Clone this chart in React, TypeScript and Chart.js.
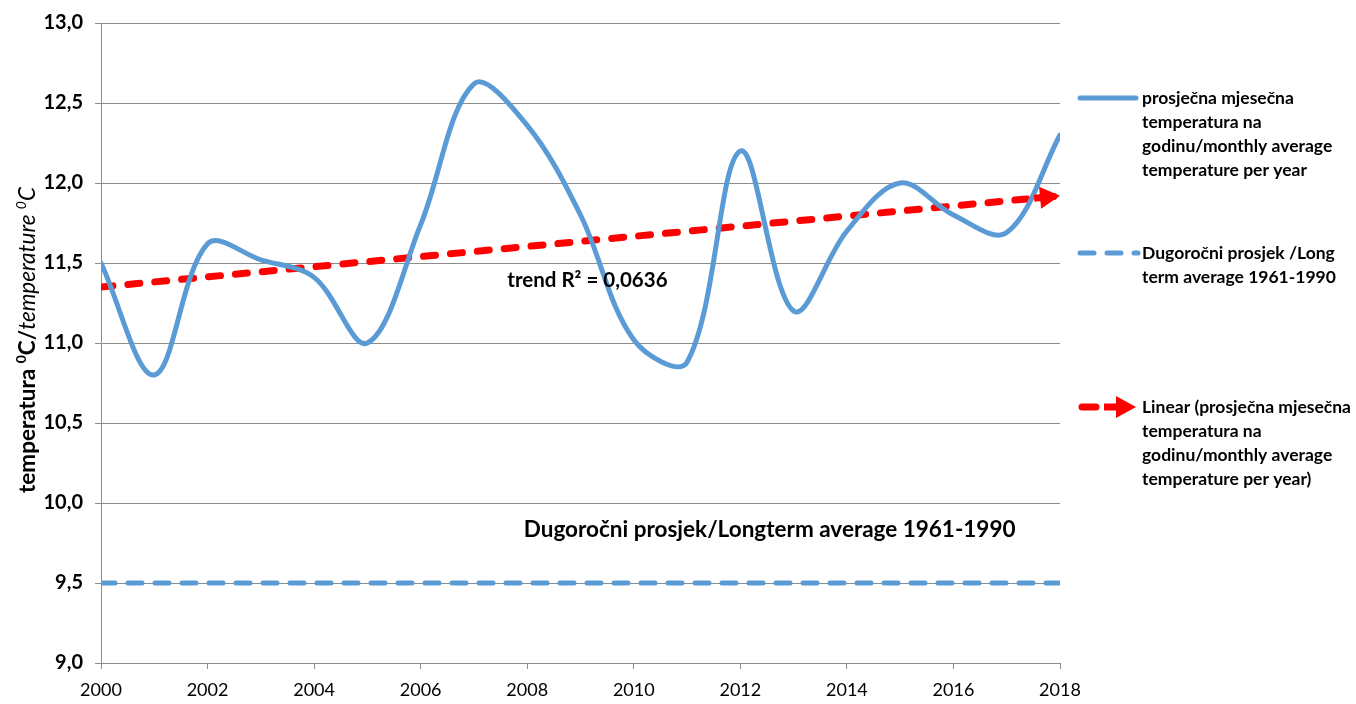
import React, { useEffect, useRef } from "react";
import { Chart, registerables } from "chart.js";

Chart.register(...registerables);

const years = [2000, 2001, 2002, 2003, 2004, 2005, 2006, 2007, 2008, 2009, 2010, 2011, 2012, 2013, 2014, 2015, 2016, 2017, 2018];
const monthlyAvg = [11.5, 10.8, 11.62, 11.52, 11.41, 11.0, 11.74, 12.62, 12.36, 11.8, 11.02, 10.88, 12.2, 11.2, 11.7, 12.0, 11.8, 11.69, 12.3];
const longTermYears = [2000, 2018];
const longTermAvg = [9.5, 9.5];
const trendYears = [2000, 2018];
const trendValues = [11.35, 11.92];

const seriesLabels = [
  ["prosječna mjesečna", "temperatura na", "godinu/monthly average", "temperature per year"],
  ["Dugoročni prosjek /Long", "term average 1961-1990"],
  ["Linear (prosječna mjesečna", "temperatura na", "godinu/monthly average", "temperature per year)"],
];
const trendLabel = "trend R² = 0,0636";
const longTermNote = "Dugoročni prosjek/Longterm average 1961-1990";

const FONT = "Lato, 'Open Sans', sans-serif";
const BLUE = "#5B9BD5";
const RED = "#FF0000";

const drawPlugin = {
  id: "custom",
  afterDatasetsDraw(chart: any) {
    const ctx = chart.ctx;
    const xs = chart.scales.x;
    const ys = chart.scales.y;
    const x0 = xs.getPixelForValue(trendYears[0]);
    const y0 = ys.getPixelForValue(trendValues[0]);
    const x1 = xs.getPixelForValue(trendYears[1]);
    const y1 = ys.getPixelForValue(trendValues[1]);
    const ang = Math.atan2(y1 - y0, x1 - x0);
    ctx.save();
    ctx.translate(x1, y1);
    ctx.rotate(ang);
    ctx.fillStyle = RED;
    ctx.beginPath();
    ctx.moveTo(0, 0);
    ctx.lineTo(-20, -11);
    ctx.lineTo(-20, 11);
    ctx.closePath();
    ctx.fill();
    ctx.fillRect(-26, -3.5, 8, 7);
    ctx.restore();

    ctx.save();
    ctx.fillStyle = "#000";
    ctx.textAlign = "center";
    ctx.textBaseline = "middle";
    ctx.font = `bold 20.5px ${FONT}`;
    ctx.fillText(trendLabel, xs.getPixelForValue(2009.13), ys.getPixelForValue(11.39));
    ctx.font = `bold 22.5px ${FONT}`;
    ctx.fillText(longTermNote, xs.getPixelForValue(2012.55), ys.getPixelForValue(9.83));
    ctx.restore();
  },
  afterDraw(chart: any) {
    const ctx = chart.ctx;
    ctx.save();
    ctx.fillStyle = "#000";
    ctx.textAlign = "left";
    ctx.textBaseline = "middle";
    ctx.font = `bold 17.5px ${FONT}`;
    const lx = 1078;
    const tx = 1142;
    const tops = [98, 253, 407];
    const lh = 24;
    seriesLabels.forEach((lines, i) => {
      lines.forEach((t, j) => ctx.fillText(t, tx, tops[i] + j * lh));
    });
    ctx.lineCap = "round";
    ctx.strokeStyle = BLUE;
    ctx.lineWidth = 5;
    ctx.beginPath();
    ctx.moveTo(lx + 2, tops[0]);
    ctx.lineTo(lx + 58, tops[0]);
    ctx.stroke();
    ctx.setLineDash([14, 13]);
    ctx.beginPath();
    ctx.moveTo(lx + 2, tops[1]);
    ctx.lineTo(lx + 60, tops[1]);
    ctx.stroke();
    ctx.setLineDash([]);
    ctx.strokeStyle = RED;
    ctx.lineWidth = 7;
    ctx.beginPath();
    ctx.moveTo(lx + 4, tops[2]);
    ctx.lineTo(lx + 18, tops[2]);
    ctx.stroke();
    ctx.fillStyle = RED;
    ctx.fillRect(lx + 26, tops[2] - 3.5, 14, 7);
    ctx.beginPath();
    ctx.moveTo(lx + 58, tops[2]);
    ctx.lineTo(lx + 38, tops[2] - 11);
    ctx.lineTo(lx + 38, tops[2] + 11);
    ctx.closePath();
    ctx.fill();

    ctx.translate(27, 340);
    ctx.rotate(-Math.PI / 2);
    ctx.fillStyle = "#000";
    ctx.textBaseline = "alphabetic";
    const parts = [
      { t: "temperatura ", f: `bold 22.5px ${FONT}`, dy: 0 },
      { t: "0", f: `bold 14px ${FONT}`, dy: -9 },
      { t: "C/", f: `bold 22.5px ${FONT}`, dy: 0 },
      { t: "temperature ", f: `italic 22.5px ${FONT}`, dy: 0 },
      { t: "0", f: `italic 14px ${FONT}`, dy: -9 },
      { t: "C", f: `italic 22.5px ${FONT}`, dy: 0 },
    ];
    let total = 0;
    parts.forEach((p) => {
      ctx.font = p.f;
      total += ctx.measureText(p.t).width;
    });
    let cx = -total / 2;
    parts.forEach((p) => {
      ctx.font = p.f;
      ctx.fillText(p.t, cx, 8 + p.dy);
      cx += ctx.measureText(p.t).width;
    });
    ctx.restore();
  },
};

export default function App() {
  const ref = useRef<HTMLCanvasElement>(null);
  useEffect(() => {
    if (!ref.current) return;
    const chart = new Chart(ref.current, {
      type: "line",
      data: {
        datasets: [
          {
            label: seriesLabels[0].join(" "),
            data: years.map((y, i) => ({ x: y, y: monthlyAvg[i] })),
            borderColor: BLUE,
            borderWidth: 5,
            pointRadius: 0,
            tension: 0.35,
            borderCapStyle: "round",
            fill: false,
          },
          {
            label: seriesLabels[1].join(" "),
            data: longTermYears.map((y, i) => ({ x: y, y: longTermAvg[i] })),
            borderColor: BLUE,
            borderWidth: 5,
            borderDash: [14, 13],
            borderCapStyle: "round",
            pointRadius: 0,
            fill: false,
          },
          {
            label: seriesLabels[2].join(" "),
            data: trendYears.map((y, i) => ({ x: y, y: trendValues[i] })),
            borderColor: RED,
            borderWidth: 7,
            borderDash: [12, 15],
            borderCapStyle: "round",
            pointRadius: 0,
            fill: false,
          },
        ],
      },
      options: {
        animation: false,
        responsive: true,
        maintainAspectRatio: false,
        layout: { padding: { left: 0, right: 296, top: 21, bottom: 0 } },
        plugins: { legend: { display: false }, tooltip: { enabled: false } },
        scales: {
          x: {
            type: "linear",
            min: 2000,
            max: 2018,
            afterFit: (s: any) => {
              s.height = 41;
            },
            ticks: {
              stepSize: 2,
              color: "#000",
              font: { family: FONT, size: 18 },
              padding: 10,
              callback: (v: any) => String(v),
              maxRotation: 0,
            },
            grid: { drawOnChartArea: false, drawTicks: true, tickLength: 6, color: "#8c8c8c" },
            border: { color: "#8c8c8c", width: 1 },
          },
          y: {
            min: 9,
            max: 13,
            afterFit: (s: any) => {
              s.width = 101;
            },
            ticks: {
              stepSize: 0.5,
              color: "#000",
              font: { family: FONT, size: 20, weight: "bold", lineHeight: 1.1 },
              padding: 12,
              callback: (v: any) => Number(v).toFixed(1).replace(".", ","),
            },
            grid: { color: "#8c8c8c", tickLength: 6, drawTicks: true },
            border: { color: "#8c8c8c", width: 1 },
          },
        },
      },
      plugins: [drawPlugin],
    });
    return () => chart.destroy();
  }, []);
  return (
    <div style={{ position: "absolute", left: 0, top: 0, width: 1356, height: 704, background: "#fff" }}>
      <canvas ref={ref} />
    </div>
  );
}
